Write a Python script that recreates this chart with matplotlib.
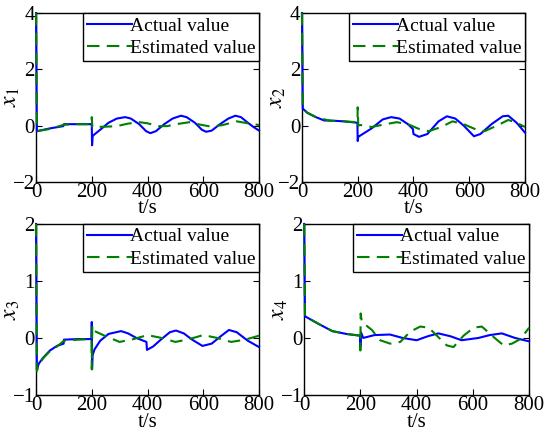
import numpy as np
import matplotlib
matplotlib.use("Agg")
import matplotlib.pyplot as plt

plt.rcParams['font.family'] = ['Liberation Serif', 'DejaVu Serif']
plt.rcParams['mathtext.fontset'] = 'stix'

# x1
t1_act = [0, 3, 50, 98, 100, 150, 199, 200, 201, 203, 205, 230, 260, 290, 320, 340, 370, 395, 410, 430,
          460, 490, 520, 540, 570, 595, 610, 630, 660, 690, 715, 735, 760, 780, 800]
x1_act = [4, -0.2, -0.1, -0.02, 0.05, 0.05, 0.05, 0.05, -0.7, -0.4, -0.35, -0.15, 0.1, 0.25, 0.3, 0.25,
          0.05, -0.2, -0.27, -0.2, 0.05, 0.25, 0.35, 0.3, 0.1, -0.15, -0.22, -0.18, 0.05, 0.25, 0.35, 0.3,
          0.1, -0.05, -0.18]
t1_est = [0, 3, 50, 100, 150, 199, 200, 202, 205, 250, 290, 330, 372, 400, 440, 470, 510, 550, 590, 630,
          670, 720, 760, 800]
x1_est = [4, -0.2, -0.12, 0.03, 0.05, 0.05, 0.3, -0.05, -0.05, -0.04, -0.02, 0.07, 0.12, 0.08, -0.02,
          -0.02, 0.06, 0.12, 0.03, -0.04, 0.02, 0.15, 0.08, 0.02]

# x2
t2_act = [0, 3, 20, 50, 80, 100, 150, 199, 200, 202, 210, 250, 290, 320, 350, 380, 398, 400, 420, 450,
          490, 520, 550, 580, 617, 640, 680, 720, 740, 770, 800]
x2_act = [4, 0.6, 0.45, 0.3, 0.18, 0.18, 0.15, 0.1, -0.55, -0.4, -0.35, -0.1, 0.22, 0.3, 0.25, 0.05,
          -0.12, -0.3, -0.4, -0.3, 0.15, 0.33, 0.25, 0.0, -0.38, -0.3, 0.05, 0.33, 0.35, 0.1, -0.25]
t2_est = [0, 3, 20, 50, 100, 150, 199, 200, 202, 210, 250, 300, 340, 380, 420, 455, 500, 540, 580, 620,
          655, 700, 740, 770, 800]
x2_est = [4, 0.6, 0.45, 0.3, 0.17, 0.15, 0.12, 0.65, 0.0, 0.02, -0.05, 0.05, 0.12, 0.05, -0.12, -0.2,
          -0.05, 0.15, 0.05, -0.12, -0.2, 0.0, 0.2, 0.1, -0.05]

# x3
t3_act = [0, 3, 10, 25, 50, 75, 99, 100, 150, 199, 200, 201, 203, 210, 230, 260, 305, 330, 360, 396,
          398, 420, 450, 480, 502, 530, 560, 597, 630, 660, 692, 720, 760, 800]
x3_act = [2, -0.55, -0.45, -0.35, -0.22, -0.14, -0.1, -0.03, -0.02, -0.02, 0.28, -0.55, -0.3, -0.2,
          -0.05, 0.07, 0.12, 0.08, 0.0, -0.07, -0.21, -0.15, -0.02, 0.1, 0.13, 0.08, -0.03, -0.14, -0.1,
          0.02, 0.14, 0.1, -0.05, -0.16]
t3_est = [0, 3, 10, 25, 50, 75, 100, 150, 199, 200, 202, 210, 250, 300, 350, 400, 450, 500, 550, 600,
          650, 700, 750, 800]
x3_est = [2, -0.58, -0.47, -0.36, -0.23, -0.15, -0.05, -0.03, -0.02, -0.55, 0.22, 0.12, 0.03, -0.07,
          -0.02, 0.05, 0.0, -0.07, -0.02, 0.05, 0.0, -0.07, -0.03, 0.04]

# x4
t4_act = [0, 3, 50, 100, 150, 199, 200, 202, 210, 250, 305, 350, 400, 440, 477, 520, 560, 620, 660,
          703, 750, 800]
x4_act = [2, 0.38, 0.25, 0.12, 0.07, 0.04, -0.15, 0.1, 0.0, 0.05, 0.06, 0.0, -0.04, 0.03, 0.08, 0.03,
          -0.04, 0.0, 0.05, 0.08, 0.0, -0.06]
t4_est = [0, 3, 50, 100, 150, 199, 200, 201, 205, 241, 270, 306, 342, 377, 413, 443, 472, 507, 531,
          567, 603, 632, 668, 709, 739, 769, 800]
x4_est = [2, 0.38, 0.25, 0.12, 0.07, 0.04, -0.22, 0.43, 0.28, 0.14, -0.04, -0.1, -0.07, 0.11, 0.2,
          0.18, 0.04, -0.13, -0.16, 0.04, 0.18, 0.2, 0.04, -0.13, -0.1, -0.02, 0.18]

panels = [
    (t1_act, x1_act, t1_est, x1_est, r'$x_1$', (-2, 4), [-2, 0, 2, 4], [0.0655, 0.581, 0.4055, 0.389]),
    (t2_act, x2_act, t2_est, x2_est, r'$x_2$', (-2, 4), [-2, 0, 2, 4], [0.549, 0.581, 0.4055, 0.389]),
    (t3_act, x3_act, t3_est, x3_est, r'$x_3$', (-1, 2), [-1, 0, 1, 2], [0.0655, 0.090, 0.4055, 0.394]),
    (t4_act, x4_act, t4_est, x4_est, r'$x_4$', (-1, 2), [-1, 0, 1, 2], [0.553, 0.090, 0.409, 0.394]),
]

fig = plt.figure(figsize=(5.5, 4.34), dpi=100)

for ta, xa, te, xe, lab, ylim, yt, pos in panels:
    ax = fig.add_axes(pos)
    # lines drawn above the spines so the spike at t=0 shows on the left edge
    ax.plot(ta, xa, color='#0000ff', lw=1.5, label='Actual value', zorder=3, clip_on=False)
    ax.plot(te, xe, color='#008000', lw=1.5, ls=(0, (6, 3.5)), label='Estimated value', zorder=3,
            clip_on=False)
    ax.set_xlim(0, 800)
    ax.set_ylim(*ylim)
    ax.set_xticks([0, 200, 400, 600, 800])
    ax.set_yticks(yt)
    ax.tick_params(direction='in', top=True, right=True, labelsize=15, length=4, pad=1)
    ax.set_xlabel('t/s', fontsize=15, labelpad=-2)
    ax.set_ylabel(lab, fontsize=17, labelpad=-7)
    for s in ax.spines.values():
        s.set_linewidth(1.0)
    leg = ax.legend(loc='upper right', fontsize=14, handlelength=2.3, handletextpad=-0.1,
                    borderpad=0.2, labelspacing=0.25, borderaxespad=0.0, fancybox=False,
                    framealpha=1, edgecolor='black')
    leg.get_frame().set_linewidth(1.0)
    leg.set_zorder(5)

fig.savefig('out.png', dpi=100)
